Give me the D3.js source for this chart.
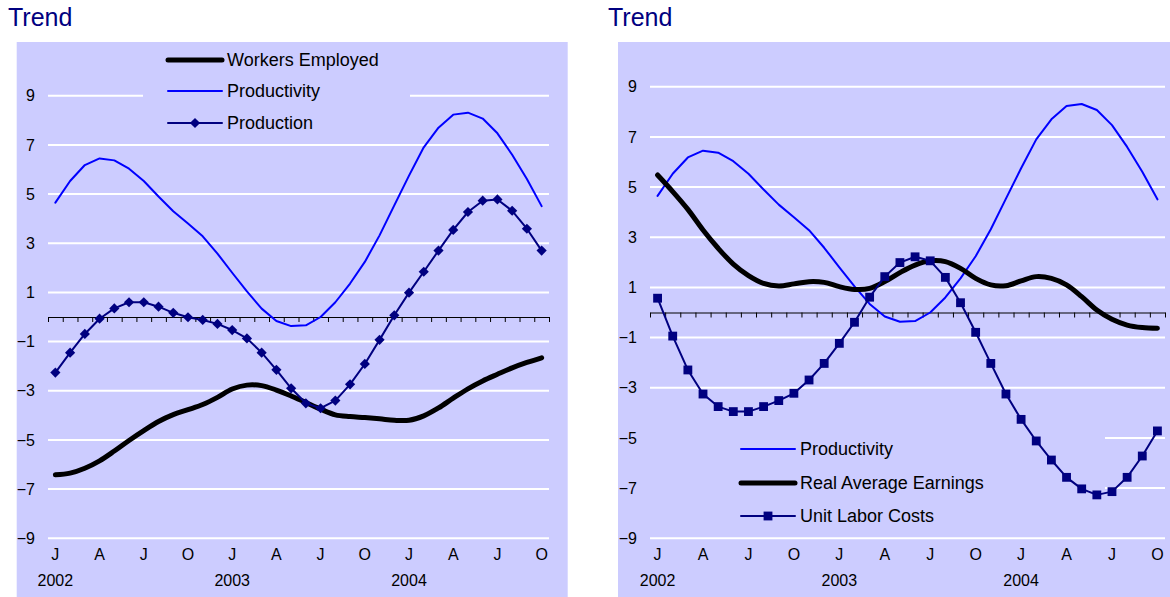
<!DOCTYPE html>
<html>
<head>
<meta charset="utf-8">
<script src="https://cdn.jsdelivr.net/npm/d3@7"></script>
<style>
  body { margin: 0; background: #fff; }
  svg { display: block; font-family: "Liberation Sans", Arial, sans-serif; }
</style>
</head>
<body>
<svg id="chart" width="1170" height="597"></svg>
<script>
// month initials, Jan 2002 .. Oct 2004
const monthInitials = ["J","F","M","A","M","J","J","A","S","O","N","D"];
const months = d3.range(34).map(i => monthInitials[i % 12]);
const years = [{ i: 0, label: "2002" }, { i: 12, label: "2003" }, { i: 24, label: "2004" }];
const yTicks = [-9, -7, -5, -3, -1, 1, 3, 5, 7, 9];

const productivity = [4.65, 5.53, 6.18, 6.45, 6.37, 6.03, 5.53, 4.9, 4.3, 3.8, 3.28, 2.58,
  1.8, 1.04, 0.34, -0.16, -0.37, -0.34, 0.0, 0.6, 1.36, 2.24, 3.32, 4.54,
  5.75, 6.9, 7.7, 8.23, 8.31, 8.07, 7.47, 6.6, 5.61, 4.51];

const production = [-2.26, -1.45, -0.69, -0.07, 0.35, 0.6, 0.6, 0.42, 0.17, -0.01, -0.12, -0.28,
  -0.53, -0.87, -1.45, -2.15, -2.9, -3.51, -3.71, -3.4, -2.74, -1.91, -0.93, 0.07,
  0.99, 1.84, 2.7, 3.54, 4.27, 4.73, 4.78, 4.32, 3.59, 2.7];

const workersEmployed = [-6.42, -6.35, -6.15, -5.85, -5.45, -5.02, -4.62, -4.25, -3.97, -3.77, -3.56, -3.27,
  -2.93, -2.77, -2.79, -2.97, -3.21, -3.48, -3.75, -3.98, -4.05, -4.09, -4.14, -4.2,
  -4.2, -4.02, -3.7, -3.3, -2.92, -2.6, -2.33, -2.07, -1.85, -1.66];

const realEarnings = [5.48, 4.82, 4.11, 3.29, 2.56, 1.93, 1.47, 1.16, 1.06, 1.14, 1.23, 1.2,
  1.03, 0.92, 0.96, 1.23, 1.59, 1.89, 2.06, 2.03, 1.76, 1.36, 1.1, 1.07,
  1.26, 1.43, 1.36, 1.1, 0.63, 0.1, -0.27, -0.5, -0.6, -0.63];

const unitLaborCosts = [0.57, -0.94, -2.29, -3.25, -3.75, -3.95, -3.95, -3.75, -3.51, -3.22, -2.69, -2.03,
  -1.23, -0.39, 0.61, 1.43, 1.99, 2.22, 2.06, 1.4, 0.39, -0.79, -2.03, -3.25,
  -4.26, -5.12, -5.88, -6.57, -7.03, -7.27, -7.14, -6.57, -5.72, -4.72];

const bg = "#CCCCFF";
const navy = "#000080";
const svg = d3.select("#chart");

function drawPanel(p) {
  const g = svg.append("g");

  g.append("rect")
    .attr("x", p.bgX).attr("y", 42)
    .attr("width", p.bgW).attr("height", 597 - 42)
    .attr("fill", bg);

  g.append("text")
    .attr("x", p.titleX).attr("y", 26)
    .attr("fill", navy)
    .style("font-size", "25px")
    .text("Trend");

  const x = d3.scaleBand().domain(d3.range(months.length)).range([p.x0, p.x1]);
  const xEdge = d3.scaleLinear().domain([0, months.length]).range([p.x0, p.x1]);
  const y = d3.scaleLinear().domain([-9, 9]).range([p.yBottom, p.yTop]);
  const cx = i => x(i) + x.bandwidth() / 2;

  // white gridlines
  g.selectAll(".grid")
    .data(yTicks)
    .enter().append("line")
    .attr("x1", p.x0).attr("x2", p.x1)
    .attr("y1", d => y(d)).attr("y2", d => y(d))
    .attr("stroke", "white")
    .attr("stroke-width", 2);

  // y labels
  const yAxis = g.append("g")
    .attr("transform", `translate(${p.x0},0)`)
    .call(d3.axisLeft(y).tickValues(yTicks).tickSize(0).tickPadding(13).tickFormat(d3.format("d")));
  yAxis.select(".domain").remove();
  yAxis.selectAll("text").style("font-size", "16px").attr("fill", "#000").style("font-family", "inherit");

  // legend box hides the grid behind it
  g.append("rect")
    .attr("x", p.legend.x).attr("y", p.legend.y)
    .attr("width", p.legend.w).attr("height", p.legend.h)
    .attr("fill", bg);

  // zero axis with tick marks at month boundaries
  const zeroAxis = g.append("g")
    .attr("transform", `translate(0,${y(0)})`)
    .call(d3.axisBottom(xEdge).tickValues(d3.range(months.length + 1)).tickSize(5).tickSizeOuter(0).tickFormat(""));
  zeroAxis.selectAll("line,path").attr("stroke", "#000").attr("stroke-width", 1);

  // month labels
  const mAxis = g.append("g")
    .attr("transform", `translate(0,${p.yBottom + 10})`)
    .call(d3.axisBottom(x).tickSize(0).tickPadding(0).tickFormat((d, i) => i % 3 === 0 ? months[i] : ""));
  mAxis.select(".domain").remove();
  mAxis.selectAll("text").style("font-size", "16px").attr("fill", "#000").style("font-family", "inherit");

  g.selectAll(".year")
    .data(years)
    .enter().append("text")
    .attr("x", d => cx(d.i))
    .attr("y", p.yBottom + 48)
    .attr("text-anchor", "middle")
    .style("font-size", "16px")
    .text(d => d.label);

  // series
  p.series.forEach(s => {
    const line = d3.line()
      .x((d, i) => cx(i))
      .y(d => y(d))
      .curve(s.smooth ? d3.curveCatmullRom.alpha(0.5) : d3.curveLinear);
    g.append("path")
      .datum(s.values)
      .attr("d", line)
      .attr("fill", "none")
      .attr("stroke", s.color)
      .attr("stroke-width", s.width)
      .attr("stroke-linejoin", "round")
      .attr("stroke-linecap", "round");
    if (s.marker) {
      g.selectAll(null)
        .data(s.values)
        .enter().append("path")
        .attr("d", d3.symbol(d3.symbolSquare, s.marker === "diamond" ? 52 : 78)())
        .attr("transform", (d, i) => `translate(${cx(i)},${y(d)})` + (s.marker === "diamond" ? " rotate(45)" : ""))
        .attr("fill", s.color);
    }
  });

  // legend entries
  const lg = g.selectAll(".legend")
    .data(p.series.slice().sort((a, b) => a.legendRow - b.legendRow))
    .enter().append("g")
    .attr("transform", (d, i) => `translate(${p.legend.lineX},${p.legend.rowY[i]})`);
  lg.append("line")
    .attr("x1", 0).attr("x2", 54)
    .attr("stroke", d => d.color)
    .attr("stroke-width", d => d.width)
    .attr("stroke-linecap", "round");
  lg.filter(d => d.marker)
    .append("path")
    .attr("d", d => d3.symbol(d3.symbolSquare, d.marker === "diamond" ? 52 : 78)())
    .attr("transform", d => "translate(27,0)" + (d.marker === "diamond" ? " rotate(45)" : ""))
    .attr("fill", d => d.color);
  lg.append("text")
    .attr("x", 59)
    .attr("dy", "0.35em")
    .style("font-size", "18px")
    .text(d => d.name);
}

drawPanel({
  bgX: 16.7, bgW: 551, titleX: 8,
  x0: 48, x1: 549, yTop: 95.7, yBottom: 538.3,
  legend: { x: 143, y: 44, w: 267, h: 94, lineX: 168, rowY: [60, 91, 123] },
  series: [
    { name: "Workers Employed", values: workersEmployed, color: "#000", width: 5, smooth: true, legendRow: 0 },
    { name: "Productivity", values: productivity, color: "#0000FF", width: 2, legendRow: 1 },
    { name: "Production", values: production, color: navy, width: 2, marker: "diamond", legendRow: 2 }
  ]
});

drawPanel({
  bgX: 618, bgW: 552, titleX: 608,
  x0: 650, x1: 1165, yTop: 86.7, yBottom: 538.3,
  legend: { x: 645, y: 425, w: 460, h: 106, lineX: 741, rowY: [449, 483, 516] },
  series: [
    { name: "Productivity", values: productivity, color: "#0000FF", width: 2, legendRow: 0 },
    { name: "Real Average Earnings", values: realEarnings, color: "#000", width: 5, smooth: true, legendRow: 1 },
    { name: "Unit Labor Costs", values: unitLaborCosts, color: navy, width: 2, marker: "square", legendRow: 2 }
  ]
});
</script>
</body>
</html>
